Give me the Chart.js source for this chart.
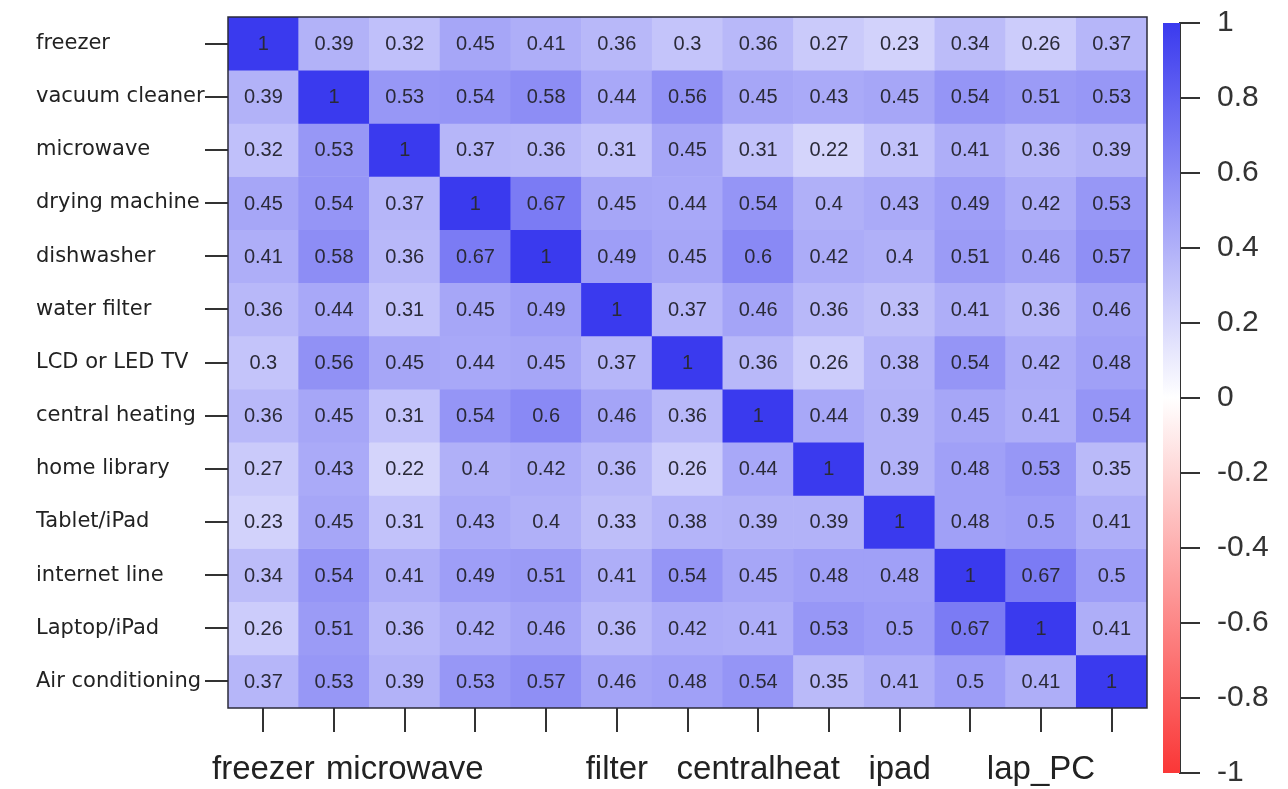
<!DOCTYPE html>
<html>
<head>
<meta charset="utf-8">
<script src="https://cdn.jsdelivr.net/npm/chart.js@4.4.1/dist/chart.umd.min.js"></script>
<style>
  html, body { margin: 0; padding: 0; background: #ffffff; overflow: hidden; }
  #wrap { position: relative; width: 1288px; height: 789px; overflow: hidden; }
  #main { position: absolute; left: 0; top: 0; }
  #bar { position: absolute; left: 1150px; top: -12px; }
</style>
</head>
<body>
<div id="wrap">
  <canvas id="main" width="1288" height="789"></canvas>
  <canvas id="bar" width="138" height="820"></canvas>
</div>
<script>
// ---- Row (y) labels ----
const rowLabels = ['freezer', 'vacuum cleaner', 'microwave', 'drying machine', 'dishwasher',
  'water filter', 'LCD or LED TV', 'central heating', 'home library', 'Tablet/iPad',
  'internet line', 'Laptop/iPad', 'Air conditioning'];

// ---- Column (x) tick labels ----
const xTickLabels = ['freezer', '', 'microwave', '', '', 'filter', '', 'centralheat', '', 'ipad', '', 'lap_PC', ''];

// ---- Correlation values, one array per row ----
const freezerRow      = [1, 0.39, 0.32, 0.45, 0.41, 0.36, 0.3, 0.36, 0.27, 0.23, 0.34, 0.26, 0.37];
const vacuumRow       = [0.39, 1, 0.53, 0.54, 0.58, 0.44, 0.56, 0.45, 0.43, 0.45, 0.54, 0.51, 0.53];
const microwaveRow    = [0.32, 0.53, 1, 0.37, 0.36, 0.31, 0.45, 0.31, 0.22, 0.31, 0.41, 0.36, 0.39];
const dryingRow       = [0.45, 0.54, 0.37, 1, 0.67, 0.45, 0.44, 0.54, 0.4, 0.43, 0.49, 0.42, 0.53];
const dishwasherRow   = [0.41, 0.58, 0.36, 0.67, 1, 0.49, 0.45, 0.6, 0.42, 0.4, 0.51, 0.46, 0.57];
const waterFilterRow  = [0.36, 0.44, 0.31, 0.45, 0.49, 1, 0.37, 0.46, 0.36, 0.33, 0.41, 0.36, 0.46];
const tvRow           = [0.3, 0.56, 0.45, 0.44, 0.45, 0.37, 1, 0.36, 0.26, 0.38, 0.54, 0.42, 0.48];
const heatingRow      = [0.36, 0.45, 0.31, 0.54, 0.6, 0.46, 0.36, 1, 0.44, 0.39, 0.45, 0.41, 0.54];
const libraryRow      = [0.27, 0.43, 0.22, 0.4, 0.42, 0.36, 0.26, 0.44, 1, 0.39, 0.48, 0.53, 0.35];
const tabletRow       = [0.23, 0.45, 0.31, 0.43, 0.4, 0.33, 0.38, 0.39, 0.39, 1, 0.48, 0.5, 0.41];
const internetRow     = [0.34, 0.54, 0.41, 0.49, 0.51, 0.41, 0.54, 0.45, 0.48, 0.48, 1, 0.67, 0.5];
const laptopRow       = [0.26, 0.51, 0.36, 0.42, 0.46, 0.36, 0.42, 0.41, 0.53, 0.5, 0.67, 1, 0.41];
const airconRow       = [0.37, 0.53, 0.39, 0.53, 0.57, 0.46, 0.48, 0.54, 0.35, 0.41, 0.5, 0.41, 1];

// ---- Colour bar tick labels ----
const cbTicks = [1, 0.8, 0.6, 0.4, 0.2, 0, -0.2, -0.4, -0.6, -0.8, -1];

const rows = [freezerRow, vacuumRow, microwaveRow, dryingRow, dishwasherRow, waterFilterRow,
  tvRow, heatingRow, libraryRow, tabletRow, internetRow, laptopRow, airconRow];

const BLUE = [58, 58, 238];
const RED = [250, 55, 55];
function cellColor(v) {
  const t = Math.min(1, Math.abs(v));
  const end = v >= 0 ? BLUE : RED;
  const c = end.map(e => Math.round(255 + (e - 255) * t));
  return `rgb(${c[0]},${c[1]},${c[2]})`;
}

const datasets = rows.map((vals, r) => ({
  label: rowLabels[r],
  data: vals.map(() => [r, r + 1]),
  backgroundColor: vals.map(cellColor),
  borderWidth: 0,
  barPercentage: 1,
  categoryPercentage: 1,
  grouped: false
}));

const cellText = {
  id: 'cellText',
  afterDatasetsDraw(chart) {
    const { ctx, scales: { x, y }, chartArea } = chart;
    ctx.save();
    ctx.font = '20px "Liberation Sans", Arial, sans-serif';
    ctx.fillStyle = '#2a2a38';
    ctx.textAlign = 'center';
    ctx.textBaseline = 'middle';
    rows.forEach((vals, r) => vals.forEach((v, c) => {
      ctx.fillText(String(v), x.getPixelForValue(c), y.getPixelForValue(r + 0.5) + 1);
    }));
    ctx.strokeStyle = '#2b2b3a';
    ctx.lineWidth = 1.5;
    ctx.strokeRect(chartArea.left, chartArea.top, chartArea.right - chartArea.left, chartArea.bottom - chartArea.top);
    ctx.restore();
  }
};

new Chart(document.getElementById('main'), {
  type: 'bar',
  data: { labels: xTickLabels, datasets },
  options: {
    responsive: false,
    animation: false,
    events: [],
    layout: { padding: { left: 36, top: 17, right: 141, bottom: 2 } },
    plugins: { legend: { display: false }, tooltip: { enabled: false } },
    scales: {
      x: {
        type: 'category',
        offset: true,
        afterFit: s => { s.height = 79; },
        grid: { offset: false, drawOnChartArea: false, drawTicks: true, tickLength: 24, color: '#333', lineWidth: 2 },
        border: { display: false },
        ticks: { autoSkip: false, maxRotation: 0, minRotation: 0, padding: 18,
          font: { family: '"Liberation Sans", Arial, sans-serif', size: 33 }, color: '#222' }
      },
      y: {
        type: 'linear',
        reverse: true,
        min: 0,
        max: 13,
        position: 'left',
        afterBuildTicks: s => { s.ticks = rowLabels.map((_, i) => ({ value: i + 0.5 })); },
        afterFit: s => { s.width = 192; },
        grid: { drawOnChartArea: false, drawTicks: true, tickLength: 23, color: '#333', lineWidth: 2 },
        border: { display: false },
        ticks: { autoSkip: false, crossAlign: 'far', padding: 4,
          callback: (v, i) => rowLabels[i],
          font: { family: '"DejaVu Sans", Verdana, sans-serif', size: 21 }, color: '#222' }
      }
    }
  },
  plugins: [cellText]
});

// ---- Colour bar ----
new Chart(document.getElementById('bar'), {
  type: 'bar',
  data: {
    labels: [''],
    datasets: [{
      data: [[-1, 1]],
      barPercentage: 1,
      categoryPercentage: 1,
      borderWidth: 0,
      backgroundColor: (ctx) => {
        const ch = ctx.chart;
        const ys = ch.scales.y;
        if (!ys || !ch.chartArea) return 'rgb(200,200,250)';
        const g = ch.ctx.createLinearGradient(0, ys.getPixelForValue(1), 0, ys.getPixelForValue(-1));
        g.addColorStop(0, cellColor(1));
        g.addColorStop(0.25, cellColor(0.5));
        g.addColorStop(0.5, cellColor(0));
        g.addColorStop(0.75, cellColor(-0.5));
        g.addColorStop(1, cellColor(-1));
        return g;
      }
    }]
  },
  options: {
    responsive: false,
    animation: false,
    events: [],
    layout: { padding: { left: 13, top: 23, right: 0, bottom: 27 } },
    plugins: { legend: { display: false }, tooltip: { enabled: false } },
    scales: {
      x: { display: false },
      y: {
        position: 'right',
        min: -1,
        max: 1,
        afterBuildTicks: s => { s.ticks = cbTicks.map(v => ({ value: v })); },
        afterFit: s => { s.width = 108; },
        grid: { drawOnChartArea: false, drawTicks: true, tickLength: 20, color: '#333', lineWidth: 2 },
        border: { display: true, color: '#333', width: 2 },
        ticks: { autoSkip: false, padding: 17, callback: (v, i) => String(cbTicks[i]),
          font: { family: '"Liberation Sans", Arial, sans-serif', size: 30 }, color: '#333' }
      }
    }
  }
});
</script>
</body>
</html>
